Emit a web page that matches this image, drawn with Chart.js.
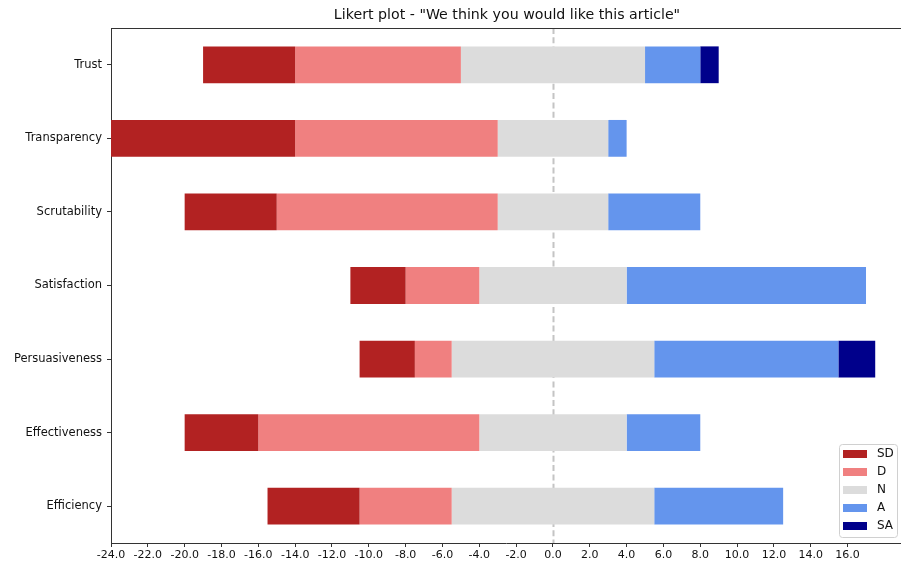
<!DOCTYPE html>
<html>
<head>
<meta charset="utf-8">
<script src="https://cdn.jsdelivr.net/npm/chart.js@4/dist/chart.umd.min.js"></script>
<style>
  html, body { margin: 0; padding: 0; background: #fff; overflow: hidden; }
  #wrap { width: 901px; height: 569px; }
</style>
</head>
<body>
<div id="wrap"><canvas id="likertChart" width="901" height="569"></canvas></div>
<script>
// questions, top to bottom
const questions = ['Trust', 'Transparency', 'Scrutability', 'Satisfaction', 'Persuasiveness', 'Effectiveness', 'Efficiency'];

// answer counts per question
const sd = [5, 10, 5, 3, 3, 4, 5];
const d  = [9, 11, 12, 4, 2, 12, 5];
const n  = [10, 6, 6, 8, 11, 8, 11];
const a  = [3, 1, 5, 13, 10, 4, 7];
const sa = [1, 0, 0, 0, 2, 0, 0];

const levels = ['SD', 'D', 'N', 'A', 'SA'];
const levelColors = ['#b22222', '#f08080', '#dcdcdc', '#6495ed', '#00008b'];

const xTicks = [-24, -22, -20, -18, -16, -14, -12, -10, -8, -6, -4, -2, 0, 2, 4, 6, 8, 10, 12, 14, 16];
const xMin = -24;
const xMax = 18.9;

const titleText = 'Likert plot - "We think you would like this article"';
const FONT = "'DejaVu Sans', sans-serif";

// build floating segments, centred on the middle of the neutral block
function buildSegments() {
    const series = [sd, d, n, a, sa];
    const out = series.map(() => []);
    questions.forEach((q, i) => {
        let start = -(sd[i] + d[i] + n[i] / 2);
        series.forEach((s, k) => {
            if (s[i] === 0) {
                out[k].push(null);
            } else {
                out[k].push([start, start + s[i]]);
            }
            start += s[i];
        });
    });
    return out;
}

const segments = buildSegments();

const datasets = levels.map((lvl, k) => ({
    label: lvl,
    data: segments[k],
    backgroundColor: levelColors[k],
    borderWidth: 0,
    barPercentage: 0.5,
    categoryPercentage: 1.0
}));

// zero line behind the bars, top spine and title over the axes
const zeroLinePlugin = {
    id: 'zeroLine',
    beforeDatasetsDraw(chart) {
        const ctx = chart.ctx;
        const x = Math.round(chart.scales.x.getPixelForValue(0)) + 0.5;
        const area = chart.chartArea;
        ctx.save();
        ctx.strokeStyle = '#c4c4c4';
        ctx.lineWidth = 2;
        ctx.setLineDash([6, 3.3]);
        ctx.beginPath();
        ctx.moveTo(x, area.top);
        ctx.lineTo(x, area.bottom);
        ctx.stroke();
        ctx.restore();
    },
    afterDraw(chart) {
        const ctx = chart.ctx;
        const area = chart.chartArea;
        ctx.save();
        ctx.strokeStyle = '#333';
        ctx.lineWidth = 1;
        ctx.beginPath();
        ctx.moveTo(area.left, Math.round(area.top) + 0.5);
        ctx.lineTo(area.right, Math.round(area.top) + 0.5);
        ctx.stroke();

        ctx.fillStyle = '#111';
        ctx.font = '14.2px ' + FONT;
        ctx.textAlign = 'center';
        ctx.textBaseline = 'middle';
        ctx.fillText(titleText, (area.left + area.right + 2) / 2, 15);
        ctx.restore();
    }
};

// legend box in the lower right corner of the axes
const boxLegendPlugin = {
    id: 'boxLegend',
    afterDraw(chart) {
        const ctx = chart.ctx;
        const area = chart.chartArea;
        const boxW = 58, boxH = 93;
        const bx = 839.5, by = area.bottom - 6 - boxH + 0.5;
        ctx.save();
        ctx.fillStyle = 'rgba(255,255,255,0.85)';
        ctx.strokeStyle = '#d0d0d0';
        ctx.lineWidth = 1;
        ctx.beginPath();
        ctx.roundRect(bx, by, boxW, boxH, 3);
        ctx.fill();
        ctx.stroke();

        ctx.font = '12px ' + FONT;
        ctx.textBaseline = 'middle';
        ctx.textAlign = 'left';
        levels.forEach((lvl, k) => {
            const cy = by + 9.5 + k * 18;
            ctx.fillStyle = levelColors[k];
            ctx.fillRect(843, cy - 4, 24, 8);
            ctx.fillStyle = '#111';
            ctx.fillText(lvl, 877, cy);
        });
        ctx.restore();
    }
};

const ctx = document.getElementById('likertChart').getContext('2d');
new Chart(ctx, {
    type: 'bar',
    data: { labels: questions, datasets: datasets },
    options: {
        indexAxis: 'y',
        responsive: false,
        animation: false,
        layout: { padding: { left: 0, right: 0, top: 28, bottom: 0 } },
        plugins: {
            legend: { display: false },
            tooltip: { enabled: false },
            title: { display: false }
        },
        scales: {
            x: {
                type: 'linear',
                min: xMin,
                max: xMax,
                afterBuildTicks: (scale) => {
                    scale.ticks = xTicks.map(v => ({ value: v }));
                },
                afterFit: (scale) => { scale.height = 26; },
                grid: { drawOnChartArea: false, drawTicks: true, tickLength: 4, tickColor: '#333' },
                border: { display: true, color: '#333', width: 1 },
                ticks: {
                    color: '#111',
                    padding: 2,
                    maxRotation: 0,
                    autoSkip: false,
                    font: { family: FONT, size: 11 },
                    callback: (v) => Number(v).toFixed(1)
                }
            },
            y: {
                stacked: true,
                afterFit: (scale) => { scale.width = 111; },
                grid: { offset: false, drawOnChartArea: false, drawTicks: true, tickLength: 4, tickColor: '#333' },
                border: { display: true, color: '#333', width: 1 },
                ticks: {
                    color: '#111',
                    padding: 5,
                    font: { family: FONT, size: 11.5 }
                }
            }
        }
    },
    plugins: [zeroLinePlugin, boxLegendPlugin]
});
</script>
</body>
</html>
